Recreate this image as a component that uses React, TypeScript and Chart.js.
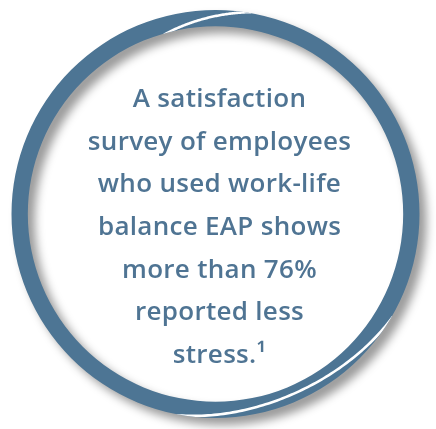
import React, { useEffect, useRef } from "react";
import { Chart, registerables } from "chart.js";

Chart.register(...registerables);

const ringLabels = ["Satisfaction survey"];
const ringValues = [100];
const textLines = [
  "A satisfaction",
  "survey of employees",
  "who used work-life",
  "balance EAP shows",
  "more than 76%",
  "reported less",
  "stress.¹",
];
const ringColor = "#4d7594";
const textColor = "#4f7493";

export default function App() {
  const ref = useRef<HTMLCanvasElement>(null);

  useEffect(() => {
    if (!ref.current) return;

    const ringPlugin = {
      id: "ringDecor",
      beforeDatasetsDraw(chart: any) {
        const c = chart.ctx;
        c.save();
        c.shadowColor = "rgba(0,0,0,0.4)";
        c.shadowBlur = 10;
        c.shadowOffsetX = 7;
        c.shadowOffsetY = 7;
      },
      afterDatasetsDraw(chart: any) {
        const c = chart.ctx;
        c.restore();
        const arc = chart.getDatasetMeta(0).data[0];
        if (!arc) return;
        const { x, y, outerRadius, innerRadius } = arc.getProps(
          ["x", "y", "outerRadius", "innerRadius"],
          true
        );
        c.save();
        c.beginPath();
        c.arc(x, y, outerRadius, 0, Math.PI * 2);
        c.arc(x, y, innerRadius, 0, Math.PI * 2, true);
        c.clip();
        c.strokeStyle = "#ffffff";
        c.lineWidth = 2.6;
        const cut = (a0: number, a1: number, rFn: (t: number) => number) => {
          c.beginPath();
          for (let i = 0; i <= 80; i++) {
            const t = i / 80;
            const a = ((a0 + (a1 - a0) * t) * Math.PI) / 180;
            const r = rFn(t);
            const px = x + r * Math.cos(a);
            const py = y + r * Math.sin(a);
            if (i === 0) c.moveTo(px, py);
            else c.lineTo(px, py);
          }
          c.stroke();
        };
        const w = outerRadius - innerRadius;
        cut(-106, -80, (t) => innerRadius - 1 + (w + 2) * t);
        cut(101, 30, (t) => outerRadius + 1 - 9 * Math.sin(Math.PI * t));
        c.restore();
      },
      afterDraw(chart: any) {
        const c = chart.ctx;
        c.save();
        c.fillStyle = textColor;
        c.textAlign = "center";
        c.textBaseline = "alphabetic";
        c.font = "600 26px 'Open Sans'";
        try {
          (c as any).letterSpacing = "0.3px";
        } catch (e) {}
        textLines.forEach((line, i) => {
          c.fillText(line, 219.5, 107 + i * 42.67);
        });
        c.restore();
      },
    };

    const chart = new Chart(ref.current, {
      type: "doughnut",
      data: {
        labels: ringLabels,
        datasets: [
          {
            data: ringValues,
            backgroundColor: [ringColor],
            borderWidth: 0,
          },
        ],
      },
      options: {
        animation: false,
        responsive: false,
        events: [],
        cutout: "92%",
        layout: { padding: { left: 11.5, right: 16.5, top: 10, bottom: 11 } },
        plugins: {
          legend: { display: false },
          tooltip: { enabled: false },
        },
      },
      plugins: [ringPlugin],
    });
    return () => chart.destroy();
  }, []);

  return (
    <div
      style={{
        position: "fixed",
        left: 0,
        top: 0,
        width: 436,
        height: 429,
        background: "#ffffff",
      }}
    >
      <canvas ref={ref} width={436} height={429} />
    </div>
  );
}
